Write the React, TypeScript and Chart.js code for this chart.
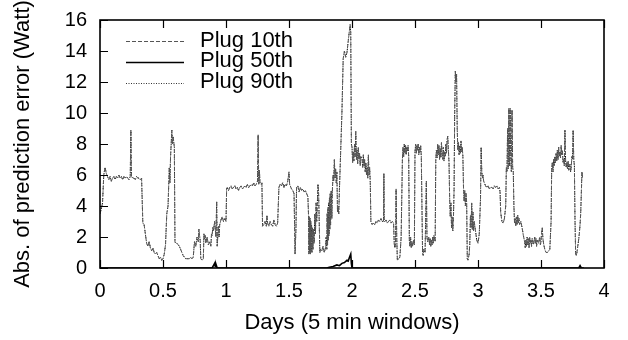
import React, { useEffect, useRef } from "react";
import { Chart, registerables } from "chart.js";

Chart.register(...registerables);

// ---- data (days, absolute prediction error in Watt) ----
const xTickValues = [0, 0.5, 1, 1.5, 2, 2.5, 3, 3.5, 4];
const xTickLabels = ["0", "0.5", "1", "1.5", "2", "2.5", "3", "3.5", "4"];
const yTickValues = [0, 2, 4, 6, 8, 10, 12, 14, 16];
const seriesNames = ["Plug 10th", "Plug 50th", "Plug 90th"];

const plug90: [number, number][] = [
  [0.00,3.5],[0.01,3.8],[0.02,4.2],[0.03,6.0],[0.04,6.5],[0.05,6.1],[0.06,5.9],[0.07,5.7],[0.08,5.9],[0.09,5.6],
  [0.10,5.8],[0.11,5.9],[0.12,5.7],[0.13,5.9],[0.14,5.8],[0.15,6.0],[0.16,5.8],[0.17,5.9],[0.18,5.7],[0.19,5.9],
  [0.20,5.8],[0.21,5.9],[0.22,5.8],[0.23,5.7],[0.24,5.9],[0.245,8.9],[0.25,5.9],[0.26,5.8],[0.27,5.8],[0.28,5.7],
  [0.29,5.9],[0.30,5.8],[0.31,5.8],[0.32,5.7],[0.33,5.8],[0.34,2.9],[0.35,2.8],[0.36,2.2],[0.37,1.6],[0.38,1.4],
  [0.39,1.7],[0.40,1.3],[0.41,1.1],[0.42,1.3],[0.43,1.0],[0.44,0.9],[0.45,1.0],[0.46,0.8],[0.47,0.6],[0.48,0.7],
  [0.49,0.5],[0.50,0.6],[0.51,0.9],[0.52,1.5],[0.53,3.5],[0.54,4.0],[0.55,6.5],[0.555,5.5],[0.56,7.2],[0.565,8.0],
  [0.57,8.9],[0.575,8.0],[0.58,8.5],[0.59,7.8],[0.595,1.7],[0.60,1.6],[0.61,1.6],[0.62,1.5],[0.63,1.4],[0.64,1.2],
  [0.65,1.0],[0.66,0.8],[0.67,0.7],[0.68,0.6],[0.69,0.6],[0.70,0.6],[0.71,0.6],[0.72,0.7],[0.73,0.6],[0.74,0.7],
  [0.75,1.7],[0.76,1.4],[0.77,2.0],[0.78,1.7],[0.785,2.5],[0.79,2.1],[0.795,1.8],[0.80,0.6],[0.81,0.5],[0.82,0.6],
  [0.825,2.2],[0.83,1.9],[0.835,2.1],[0.84,1.6],[0.85,2.0],[0.86,1.5],[0.87,1.7],[0.88,1.4],[0.885,2.2],[0.89,2.1],
  [0.895,2.6],[0.90,2.4],[0.91,3.0],[0.92,2.0],[0.926,4.3],[0.93,1.4],[0.94,2.7],[0.945,2.0],[0.95,2.8],[0.96,3.1],
  [0.97,3.3],[0.98,3.0],[0.99,3.2],[1.00,3.0],[1.005,5.1],[1.01,5.2],[1.02,5.0],[1.03,5.2],[1.04,5.3],[1.05,5.1],
  [1.06,5.2],[1.07,5.3],[1.08,5.1],[1.09,5.2],[1.10,5.0],[1.11,5.2],[1.12,5.3],[1.13,5.1],[1.14,5.2],[1.15,5.3],
  [1.16,5.2],[1.17,5.4],[1.18,5.2],[1.19,5.3],[1.20,5.4],[1.21,5.3],[1.22,5.5],[1.23,5.3],[1.24,5.4],[1.25,5.6],
  [1.255,8.6],[1.26,5.4],[1.265,6.3],[1.27,5.5],[1.28,5.4],[1.285,5.5],[1.29,2.7],[1.30,2.8],[1.31,3.0],[1.32,2.7],
  [1.325,3.4],[1.33,2.9],[1.34,2.7],[1.35,3.0],[1.36,2.8],[1.37,2.7],[1.38,3.1],[1.39,2.8],[1.40,2.7],[1.41,2.9],
  [1.42,5.2],[1.43,5.4],[1.44,5.3],[1.45,5.5],[1.46,5.2],[1.47,5.4],[1.48,5.3],[1.49,5.6],[1.50,6.2],[1.505,5.4],
  [1.51,5.3],[1.52,5.1],[1.53,5.0],[1.54,4.8],[1.548,0.9],[1.555,2.5],[1.56,5.2],[1.57,5.3],[1.58,4.9],[1.59,5.2],
  [1.60,5.0],[1.61,5.1],[1.62,4.9],[1.63,5.0],[1.64,4.8],[1.65,4.6],[1.655,3.4],[1.658,0.9],[1.661,3.3],[1.664,1.0],
  [1.667,3.2],[1.670,0.9],[1.673,3.0],[1.676,1.1],[1.679,2.8],[1.682,1.0],[1.685,2.6],[1.69,1.2],[1.695,2.5],[1.70,1.6],
  [1.705,3.5],[1.71,2.2],[1.715,4.2],[1.72,3.0],[1.73,5.4],[1.735,4.8],[1.745,1.0],[1.75,1.2],[1.76,1.1],[1.77,1.4],
  [1.78,1.0],[1.79,1.3],[1.795,2.0],[1.80,1.2],[1.803,3.5],[1.806,1.5],[1.809,3.9],[1.812,1.8],[1.815,4.2],[1.818,2.1],
  [1.821,4.5],[1.824,2.5],[1.827,4.8],[1.830,2.8],[1.835,5.0],[1.84,3.2],[1.845,5.2],[1.85,6.0],[1.855,5.6],[1.86,7.0],
  [1.865,5.8],[1.87,6.4],[1.875,5.5],[1.88,6.2],[1.885,3.6],[1.89,4.0],[1.895,3.5],[1.90,5.0],[1.91,7.5],[1.92,10.0],
  [1.93,13.5],[1.94,14.0],[1.95,13.6],[1.96,13.9],[1.975,15.0],[1.985,15.7],[1.99,15.2],[1.995,8.0],[2.00,7.8],[2.005,6.8],
  [2.01,7.5],[2.015,6.9],[2.02,8.0],[2.025,7.2],[2.03,8.8],[2.035,7.0],[2.04,7.6],[2.045,6.7],[2.05,7.8],[2.055,7.0],
  [2.06,7.4],[2.065,6.6],[2.07,7.2],[2.08,7.0],[2.085,6.5],[2.09,7.3],[2.095,6.6],[2.10,7.0],[2.105,6.2],[2.11,6.8],
  [2.115,6.0],[2.12,6.5],[2.125,5.8],[2.13,7.3],[2.135,6.0],[2.14,6.5],[2.145,5.5],[2.15,3.0],[2.16,2.8],[2.17,2.9],
  [2.18,2.8],[2.19,3.0],[2.20,2.9],[2.21,3.1],[2.22,3.0],[2.23,3.2],[2.24,3.0],[2.25,3.0],[2.253,6.1],[2.256,3.1],
  [2.26,3.0],[2.27,3.1],[2.28,2.9],[2.29,3.0],[2.30,3.1],[2.31,2.9],[2.32,3.0],[2.33,2.9],[2.335,1.6],[2.34,1.3],
  [2.345,1.5],[2.35,5.1],[2.355,2.0],[2.36,0.5],[2.37,0.6],[2.38,0.7],[2.39,2.0],[2.40,7.0],[2.405,7.8],[2.41,7.2],
  [2.415,8.0],[2.42,7.4],[2.425,7.9],[2.43,7.3],[2.435,7.8],[2.44,7.5],[2.445,7.9],[2.45,7.2],[2.455,1.8],[2.46,1.4],
  [2.465,2.0],[2.47,1.3],[2.475,1.7],[2.48,1.4],[2.49,1.8],[2.495,1.5],[2.50,7.5],[2.505,8.0],[2.51,7.4],[2.515,7.9],
  [2.52,7.6],[2.525,8.0],[2.53,7.3],[2.535,7.8],[2.54,7.5],[2.545,7.9],[2.55,7.2],[2.56,1.0],[2.565,0.8],[2.57,1.2],
  [2.58,1.0],[2.59,5.6],[2.595,2.0],[2.60,1.7],[2.61,2.0],[2.615,1.5],[2.62,1.9],[2.625,1.4],[2.63,1.8],[2.635,1.5],
  [2.64,2.0],[2.645,1.6],[2.65,2.1],[2.66,1.7],[2.665,7.0],[2.67,7.6],[2.675,7.1],[2.68,8.0],[2.685,7.3],[2.69,7.9],
  [2.695,7.0],[2.70,7.7],[2.705,7.1],[2.71,8.1],[2.715,7.4],[2.72,7.0],[2.725,7.8],[2.73,6.9],[2.735,7.5],[2.74,7.2],
  [2.745,8.0],[2.75,7.4],[2.755,8.3],[2.76,8.5],[2.765,7.6],[2.77,6.8],[2.775,4.5],[2.78,3.3],[2.785,4.2],[2.79,2.6],
  [2.795,3.3],[2.80,2.4],[2.805,3.2],[2.81,5.0],[2.815,10.0],[2.82,12.7],[2.825,12.0],[2.83,12.5],[2.835,9.0],[2.84,7.6],
  [2.845,8.1],[2.85,7.3],[2.855,7.9],[2.86,7.4],[2.865,8.2],[2.87,7.5],[2.875,7.8],[2.88,7.2],[2.885,5.2],[2.89,4.3],
  [2.895,5.0],[2.90,4.0],[2.905,4.8],[2.91,4.2],[2.915,0.6],[2.92,0.5],[2.93,0.9],[2.935,1.6],[2.94,3.4],[2.945,2.6],
  [2.95,4.2],[2.955,2.5],[2.96,3.6],[2.965,2.4],[2.97,3.0],[2.98,2.4],[2.99,1.8],[3.00,1.6],[3.01,2.2],[3.02,4.5],
  [3.025,7.8],[3.03,6.2],[3.035,5.8],[3.04,6.0],[3.045,5.6],[3.05,5.5],[3.06,5.3],[3.07,5.2],[3.08,5.3],[3.09,5.1],
  [3.10,5.2],[3.11,5.2],[3.12,5.1],[3.13,5.3],[3.14,5.2],[3.15,5.3],[3.16,5.1],[3.17,5.2],[3.175,4.9],[3.18,3.6],
  [3.19,3.0],[3.20,2.9],[3.21,3.2],[3.22,4.0],[3.225,6.5],[3.23,6.2],[3.235,9.0],[3.24,6.4],[3.245,10.3],[3.25,6.6],
  [3.255,10.3],[3.26,7.0],[3.265,6.2],[3.27,10.2],[3.275,6.5],[3.28,6.2],[3.285,4.0],[3.29,2.9],[3.295,3.2],[3.30,2.7],
  [3.305,3.3],[3.31,2.8],[3.315,3.4],[3.32,2.9],[3.325,3.2],[3.33,2.8],[3.34,3.0],[3.35,2.6],[3.36,2.1],[3.37,1.7],
  [3.375,1.3],[3.38,1.8],[3.385,1.4],[3.39,2.0],[3.395,1.5],[3.40,1.9],[3.405,1.3],[3.41,2.0],[3.415,1.6],[3.42,1.8],
  [3.425,1.4],[3.43,1.9],[3.44,1.5],[3.45,2.0],[3.455,1.6],[3.46,1.9],[3.465,1.4],[3.47,1.8],[3.48,1.6],[3.49,2.0],
  [3.495,1.5],[3.50,1.7],[3.505,2.3],[3.51,2.6],[3.515,1.9],[3.52,1.6],[3.53,1.2],[3.54,1.0],[3.55,1.0],[3.56,1.1],
  [3.57,1.2],[3.58,3.0],[3.585,6.5],[3.59,6.8],[3.595,6.2],[3.60,7.0],[3.605,6.6],[3.61,7.2],[3.615,6.8],[3.62,7.4],
  [3.625,6.9],[3.63,7.6],[3.635,7.0],[3.64,7.8],[3.645,7.2],[3.65,7.5],[3.655,7.1],[3.66,7.9],[3.665,7.3],[3.67,7.6],
  [3.675,6.8],[3.68,7.0],[3.685,6.6],[3.69,8.9],[3.695,7.0],[3.70,6.5],[3.705,6.8],[3.71,6.4],[3.715,6.9],[3.72,6.3],
  [3.73,6.7],[3.735,6.2],[3.74,6.5],[3.745,7.2],[3.75,7.0],[3.755,8.9],[3.76,7.0],[3.765,6.6],[3.77,3.0],[3.775,0.9],
  [3.78,0.8],[3.785,1.0],[3.79,1.3],[3.795,1.6],[3.80,1.9],[3.805,2.3],[3.81,2.8],[3.815,3.5],[3.82,4.8],[3.825,6.2],
  [3.83,5.8],
];

// the 10th-percentile curve is drawn on top of the 90th one and cannot be told apart in the picture
const plug10: [number, number][] = plug90;

const plug50: [number, number][] = [
  [0.00,0],[0.89,0],[0.90,0.15],[0.91,0.3],[0.915,0.1],[0.92,0.25],[0.93,0],[1.80,0],[1.82,0.05],[1.85,0.1],
  [1.88,0.2],[1.90,0.15],[1.92,0.3],[1.94,0.35],[1.96,0.5],[1.97,0.45],[1.98,0.7],[1.99,0.9],[1.995,0.3],[2.00,0],
  [3.80,0],[3.81,0.15],[3.82,0],[3.84,0],
];

const FONT = "'Liberation Sans', Arial, Helvetica, sans-serif";

const toPts = (arr: [number, number][]) => arr.map(([x, y]) => ({ x, y }));

const framePlugin = {
  id: "gnuFrame",
  afterDraw(chart: any) {
    const { ctx, chartArea: a, scales } = chart;
    ctx.save();
    ctx.strokeStyle = "#000";
    ctx.lineWidth = 1.2;
    ctx.beginPath();
    for (const v of yTickValues) {
      const y = Math.round(scales.y.getPixelForValue(v)) + 0.5;
      ctx.moveTo(a.left, y);
      ctx.lineTo(a.left + 8, y);
    }
    for (const v of xTickValues) {
      const x = Math.round(scales.x.getPixelForValue(v)) + 0.5;
      ctx.moveTo(x, a.bottom);
      ctx.lineTo(x, a.bottom - 8);
      ctx.moveTo(x, a.top);
      ctx.lineTo(x, a.top + 8);
    }
    ctx.stroke();
    ctx.lineWidth = 1.6;
    ctx.strokeRect(a.left, a.top, a.right - a.left, a.bottom - a.top);

    // key (gnuplot style: sample on the left, text on the right)
    const styles = [
      { dash: [4, 2], color: "#555", width: 1 },
      { dash: [], color: "#000", width: 1.6 },
      { dash: [1, 1.5], color: "#333", width: 1 },
    ];
    ctx.font = `22px ${FONT}`;
    ctx.fillStyle = "#000";
    ctx.textBaseline = "middle";
    ctx.textAlign = "left";
    seriesNames.forEach((name, i) => {
      const ty = a.top + 20.5 + i * 20.85;
      const ly = Math.round(ty + 0.7) + 0.5;
      const s = styles[i];
      ctx.beginPath();
      ctx.setLineDash(s.dash);
      ctx.strokeStyle = s.color;
      ctx.lineWidth = s.width;
      ctx.moveTo(a.left + 26, ly);
      ctx.lineTo(a.left + 84, ly);
      ctx.stroke();
      ctx.setLineDash([]);
      ctx.fillText(name, a.left + 100, ty);
    });
    ctx.restore();
  },
};

export default function App() {
  const ref = useRef<HTMLCanvasElement>(null);
  useEffect(() => {
    if (!ref.current) return;
    const chart = new Chart(ref.current, {
      type: "line",
      data: {
        datasets: [
          {
            label: seriesNames[1],
            data: toPts(plug50),
            borderColor: "#000",
            borderWidth: 1.6,
            pointRadius: 0,
            tension: 0,
          },
          {
            label: seriesNames[0],
            data: toPts(plug10),
            borderColor: "#555",
            borderWidth: 1,
            borderDash: [4, 2],
            pointRadius: 0,
            tension: 0,
          },
          {
            label: seriesNames[2],
            data: toPts(plug90),
            borderColor: "#000",
            borderWidth: 1,
            borderDash: [1, 1.5],
            pointRadius: 0,
            tension: 0,
          },
        ],
      },
      options: {
        responsive: false,
        animation: false,
        devicePixelRatio: 1,
        layout: { padding: { left: 0, right: 24, top: 20, bottom: 0 } },
        plugins: { legend: { display: false }, tooltip: { enabled: false } },
        scales: {
          x: {
            type: "linear",
            min: 0,
            max: 4,
            afterFit: (s: any) => {
              s.height = 72;
              s.paddingLeft = 0;
              s.paddingRight = 0;
            },
            afterBuildTicks: (s: any) => {
              s.ticks = xTickValues.map((v) => ({ value: v }));
            },
            grid: { display: false, drawTicks: false },
            border: { display: false },
            ticks: {
              padding: 11,
              color: "#000",
              maxRotation: 0,
              autoSkip: false,
              font: { family: FONT, size: 20 },
              callback: (v: any) => xTickLabels[xTickValues.indexOf(Number(v))] ?? "",
            },
            title: {
              display: true,
              text: "Days (5 min windows)",
              color: "#000",
              font: { family: FONT, size: 22 },
              padding: { top: 0, bottom: 4 },
            },
          },
          y: {
            type: "linear",
            min: 0,
            max: 16,
            afterFit: (s: any) => {
              s.width = 100;
              s.paddingTop = 0;
              s.paddingBottom = 0;
            },
            afterBuildTicks: (s: any) => {
              s.ticks = yTickValues.map((v) => ({ value: v }));
            },
            grid: { display: false, drawTicks: false },
            border: { display: false },
            ticks: {
              padding: 13,
              color: "#000",
              font: { family: FONT, size: 20 },
              callback: (v: any) => String(v),
            },
            title: {
              display: true,
              text: "Abs. of prediction error (Watt)",
              color: "#000",
              font: { family: FONT, size: 22 },
              padding: { top: 10, bottom: 0 },
            },
          },
        },
      },
      plugins: [framePlugin],
    });
    return () => chart.destroy();
  }, []);
  return (
    <div style={{ position: "absolute", left: 0, top: 0, width: 628, height: 340 }}>
      <canvas ref={ref} width={628} height={340} style={{ display: "block" }} />
    </div>
  );
}
